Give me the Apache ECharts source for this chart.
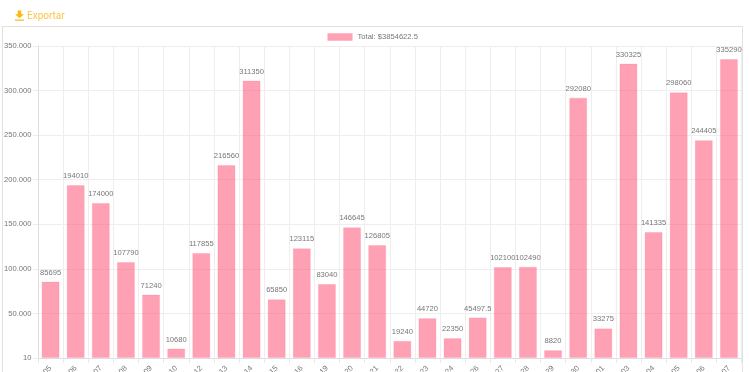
<!DOCTYPE html>
<html><head><meta charset="utf-8">
<style>
html,body{margin:0;padding:0;background:#fff;overflow:hidden}
#c{position:absolute;left:0;top:0;width:749px;height:372px}
#box{position:absolute;left:2px;top:26px;width:741px;height:360px;border:1px solid #e2e2e2;box-sizing:border-box}
#exp{position:absolute;left:15px;top:8.5px;font:10px Roboto,sans-serif;color:#fcc54a;line-height:14px}
#exp svg{position:absolute;left:0;top:1px}
#exp span{margin-left:12px}
</style></head><body>
<div id="box"></div>
<div id="c"></div>
<div id="exp"><svg width="9" height="12" viewBox="0 0 10 12"><path d="M3 0h4v4h3L5 8.6 0 4h3zM0 10h10v1.4H0z" fill="#fdb813"/></svg><span>Exportar</span></div>
<script src="https://cdn.jsdelivr.net/npm/echarts@6/dist/echarts.min.js"></script>
<script>
const categories=['05','06','07','08','09','10','12','13','14','15','16','19','20','21','22','23','24','26','27','28','29','30','01','03','04','05','06','07'];
const totals=[85695,194010,174000,107790,71240,10680,117855,216560,311350,65850,123115,83040,146645,126805,19240,44720,22350,45497.5,102100,102490,8820,292080,33275,330325,141335,298060,244405,335290];
const legendName='Total: $3854622.5';
const yTicks=[10,50000,100000,150000,200000,250000,300000,350000];
const chart=echarts.init(document.getElementById('c'),null,{renderer:'canvas'});
chart.setOption({
 animation:false,
 textStyle:{fontFamily:'"Liberation Sans",Arial,sans-serif'},
 legend:{top:28,left:322.5,icon:'rect',itemWidth:25,itemHeight:7.5,itemGap:4,itemStyle:{borderWidth:0},
  textStyle:{fontSize:7.6,color:'#777',padding:[1,0,0,0]},data:[legendName]},
 grid:{left:38,right:7.5,top:46,bottom:14,outerBoundsMode:'none'},
 xAxis:{type:'category',data:categories,
  axisLine:{lineStyle:{color:'#ddd'}},
  axisTick:{show:true,length:5,lineStyle:{color:'#e8e8e8'}},
  splitLine:{show:true,lineStyle:{color:'#eee'}},
  axisLabel:{rotate:45,fontSize:7.6,color:'#777',interval:0,margin:9}},
 yAxis:{type:'value',min:yTicks[0],max:yTicks[yTicks.length-1],
  axisLine:{show:true,lineStyle:{color:'#ddd'}},
  axisTick:{show:true,length:5,lineStyle:{color:'#eee'},customValues:yTicks},
  splitLine:{show:true,lineStyle:{color:'#eee'}},
  axisLabel:{fontSize:7.6,color:'#777',margin:6.5,customValues:yTicks,
   formatter:v=>String(Math.round(v)).replace(/\B(?=(\d{3})+$)/g,'.')}},
 series:[{name:legendName,type:'bar',data:totals,barWidth:18,
  itemStyle:{color:'rgba(255,99,132,0.6)',borderColor:'rgba(255,99,132,0.2)',borderWidth:1},
  label:{show:true,position:'top',distance:5,fontSize:7.6,color:'#777'}}]
});
</script></body></html>
